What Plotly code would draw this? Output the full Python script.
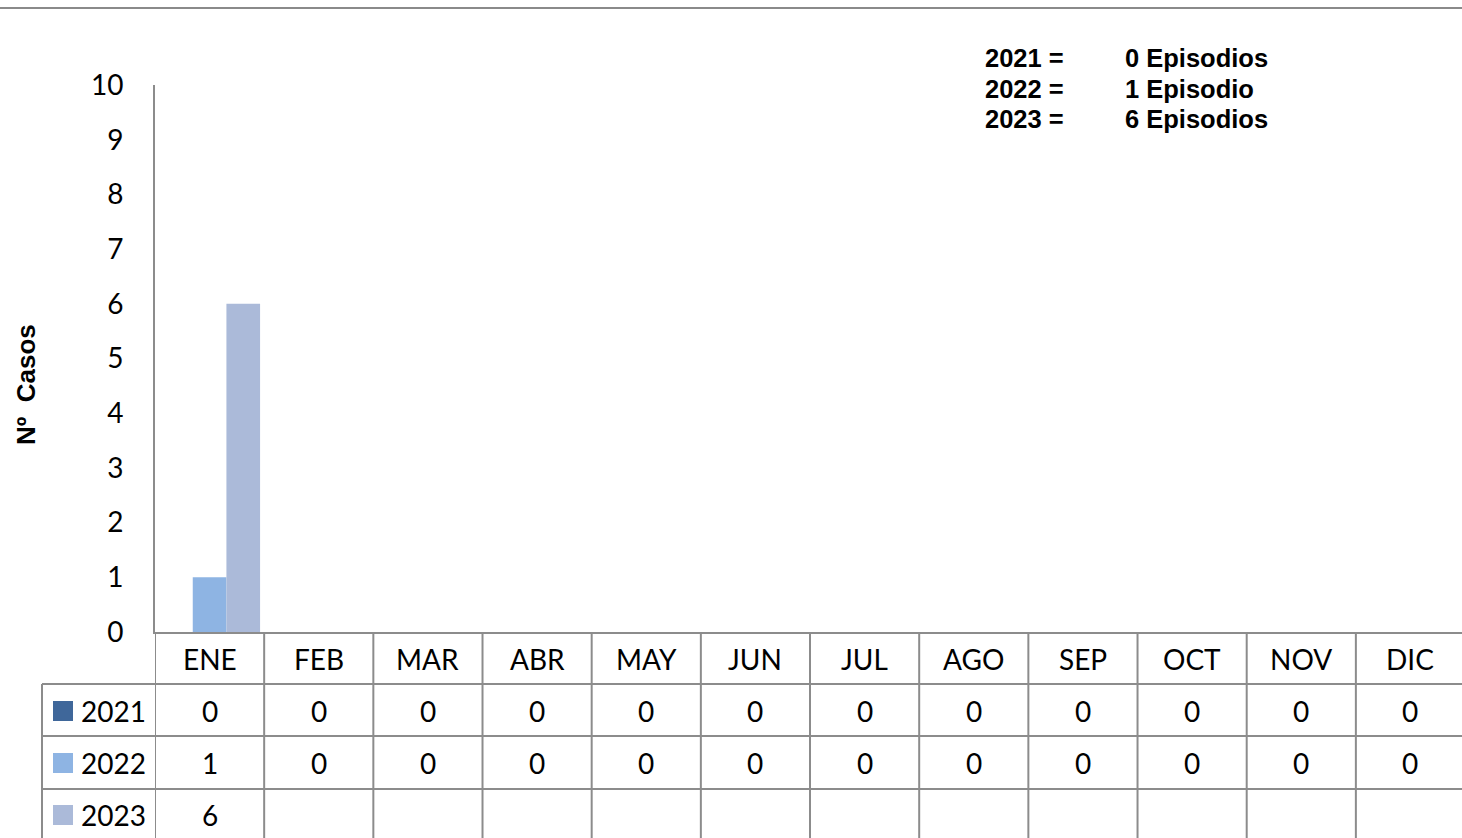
import plotly.graph_objects as go

months = ["ENE", "FEB", "MAR", "ABR", "MAY", "JUN", "JUL", "AGO", "SEP", "OCT", "NOV", "DIC"]
years = ["2021", "2022", "2023"]
v2021 = [0, 0, 0, 0, 0, 0, 0, 0, 0, 0, 0, 0]
v2022 = [1, 0, 0, 0, 0, 0, 0, 0, 0, 0, 0, 0]
v2023 = [6, None, None, None, None, None, None, None, None, None, None, None]
colors = ["#3F679A", "#8EB4E3", "#ABBAD9"]
y_ticks = [0, 1, 2, 3, 4, 5, 6, 7, 8, 9, 10]

series = [v2021, v2022, v2023]

W, H = 1462, 838
GRID = "#8c8c8c"
FONT = "Lato"
BOLD = "Liberation Sans, Arial"
CAT_W = 109.17


def py(p):
    return 1 - p / H


def px(p):
    return p / W


fig = go.Figure()
for name, vals, col in zip(years, series, colors):
    fig.add_trace(go.Bar(x=months, y=[v if v is not None else 0 for v in vals],
                         name=name, marker=dict(color=col, line=dict(width=0))))

shapes = []
annotations = []

# top rule
shapes.append(dict(type="line", xref="paper", yref="paper", x0=0, x1=1, y0=py(8), y1=py(8),
                   line=dict(color="#8a8a8a", width=2)))

# table vertical lines (category boundaries)
for k in range(len(months) + 1):
    shapes.append(dict(type="line", xref="x", yref="paper", x0=k - 0.5, x1=k - 0.5,
                       y0=py(632), y1=0, line=dict(color=GRID, width=2)))
# left legend column border
shapes.append(dict(type="line", xref="paper", yref="paper", x0=px(42), x1=px(42),
                   y0=py(684), y1=0, line=dict(color=GRID, width=2)))
# table horizontal lines
for rt in [684, 736, 789]:
    shapes.append(dict(type="line", xref="paper", yref="paper", x0=px(42), x1=1,
                       y0=py(rt), y1=py(rt), line=dict(color=GRID, width=2)))

# header labels
for m in months:
    annotations.append(dict(x=m, xref="x", y=py(659), yref="paper", text=m, showarrow=False,
                            font=dict(family=FONT, size=28, color="black"),
                            xanchor="center", yanchor="middle"))

row_centers = [711, 763, 815]
for name, vals, col, rc in zip(years, series, colors, row_centers):
    shapes.append(dict(type="rect", xref="paper", yref="paper", x0=px(53), x1=px(73),
                       y0=py(rc + 10), y1=py(rc - 10), fillcolor=col, line=dict(width=0)))
    annotations.append(dict(x=px(79), xref="paper", y=py(rc), yref="paper", text=name,
                            showarrow=False, font=dict(family=FONT, size=28, color="black"),
                            xanchor="left", yanchor="middle"))
    for m, v in zip(months, vals):
        if v is None:
            continue
        annotations.append(dict(x=m, xref="x", y=py(rc), yref="paper", text=str(v),
                                showarrow=False, font=dict(family=FONT, size=28, color="black"),
                                xanchor="center", yanchor="middle"))

# totals box
for name, vals, yy in zip(years, series, [58, 89, 119]):
    total = sum(v for v in vals if v is not None)
    word = "Episodio" if total == 1 else "Episodios"
    annotations.append(dict(x=px(983), xref="paper", y=py(yy), yref="paper",
                            text="<b>%s =</b>" % name, showarrow=False,
                            font=dict(family=BOLD, size=25.5, color="black"),
                            xanchor="left", yanchor="middle"))
    annotations.append(dict(x=px(1123), xref="paper", y=py(yy), yref="paper",
                            text="<b>%d %s</b>" % (total, word), showarrow=False,
                            font=dict(family=BOLD, size=25.5, color="black"),
                            xanchor="left", yanchor="middle"))

# y axis title
annotations.append(dict(x=px(26), xref="paper", y=py(385), yref="paper",
                        text="<b>Nº  Casos</b>", textangle=-90, showarrow=False,
                        font=dict(family=BOLD, size=26, color="black"),
                        xanchor="center", yanchor="middle"))

fig.update_layout(
    width=W, height=H, autosize=False,
    margin=dict(l=0, r=0, t=0, b=0, pad=0, autoexpand=False),
    paper_bgcolor="white", plot_bgcolor="white",
    barmode="group", bargap=0.075, bargroupgap=0,
    showlegend=False,
    xaxis=dict(domain=[px(155), 1], range=[-0.5, -0.5 + (W - 155) / CAT_W],
               showticklabels=False, ticks="", showgrid=False, zeroline=False,
               showline=True, linecolor=GRID, linewidth=2, fixedrange=True),
    yaxis=dict(domain=[py(632), py(85)], range=[0, 10], tickvals=y_ticks,
               ticks="", showgrid=False, zeroline=False,
               showline=True, linecolor=GRID, linewidth=2,
               tickfont=dict(family=FONT, size=28, color="black"),
               ticklabelstandoff=24, fixedrange=True),
    shapes=shapes,
    annotations=annotations,
)

fig.write_html(
    "out.html",
    config={"responsive": False, "displayModeBar": False},
    post_script="document.body.style.margin='0';",
)
